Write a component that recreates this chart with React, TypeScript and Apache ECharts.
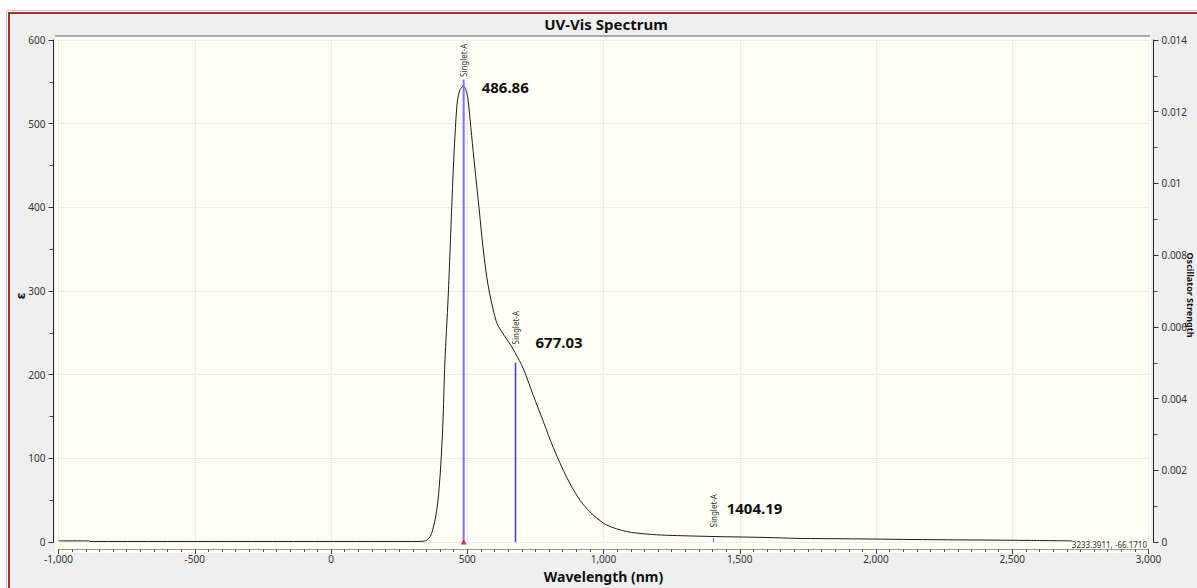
import React, { useEffect, useRef } from "react";
import * as echarts from "echarts";

// Simulated absorption spectrum (molar absorptivity vs wavelength)
const wavelengths = [
  -1000, -890, -885, 300, 338, 355, 369.5, 388, 400, 410, 418, 430, 437, 443, 449, 455,
  463.5, 474, 486.9, 498, 504, 516, 528, 543, 559, 577, 606, 625, 645, 675, 706,
  742, 779, 816, 865, 914, 963, 1012, 1085, 1159, 1230, 1402, 1600, 1721, 1880, 2170,
  2570, 2720,
];
const epsilon = [
  1.5, 1.5, 0.8, 0.8, 1.0, 3, 10.6, 38, 78, 137, 215, 293, 349, 400, 447, 486,
  526, 541, 545, 537, 526, 486, 447, 400, 349, 306, 264, 252, 242.5, 226.7, 207,
  175.6, 144.2, 112.8, 77.4, 49.9, 32.2, 20.4, 12.6, 9.6, 8.2, 6.7, 5.5, 4.4, 4.0, 3.0,
  2.0, 1.5,
];

// Computed excitations (stick spectrum)
const excitationWavelengths = [486.86, 677.03, 1404.19];
const oscillatorStrengths = [0.0129, 0.005, 0.00011];
const excitationStates = ["Singlet-A", "Singlet-A", "Singlet-A"];

const EPS_MAX = 600;
const F_MAX = 0.014;

const stickColors = ["#7474ff", "#3a3acb", "#5a5ae6"];
const stickWidths = [2, 1.5, 1];
// value label placement relative to the curve point above each stick
const valueLabelOffsets = [
  [18, 1],
  [20, -11],
  [13, -29],
];

function epsAt(wl: number): number {
  if (wl <= wavelengths[0]) return epsilon[0];
  for (let i = 1; i < wavelengths.length; i++) {
    if (wl <= wavelengths[i]) {
      const t = (wl - wavelengths[i - 1]) / (wavelengths[i] - wavelengths[i - 1]);
      return epsilon[i - 1] + t * (epsilon[i] - epsilon[i - 1]);
    }
  }
  return epsilon[epsilon.length - 1];
}

const FONT = '"Noto Sans", "DejaVu Sans", sans-serif';

function buildOption() {
  const spectrum = wavelengths.map((w, i) => [w, epsilon[i]]);
  const sticks = excitationWavelengths.map((w, i) => [w, oscillatorStrengths[i]]);

  return {
    animation: false,
    backgroundColor: "#ffffff",
    grid: { left: 58.5, right: 48.5, top: 40, bottom: 39, containLabel: false },
    xAxis: {
      type: "value",
      min: -1000,
      max: 3000,
      interval: 500,
      offset: 7,
      name: "Wavelength (nm)",
      nameLocation: "middle",
      nameGap: 17,
      nameTextStyle: { fontFamily: FONT, fontWeight: "bold", fontSize: 14, color: "#111" },
      axisLine: { show: true, onZero: false, lineStyle: { color: "#9a9a9a", width: 1 } },
      axisTick: { show: true, length: 5, lineStyle: { color: "#444" } },
      minorTick: { show: true, splitNumber: 10, length: 3, lineStyle: { color: "#555" } },
      axisLabel: {
        margin: 5,
        fontFamily: FONT,
        fontSize: 10,
        color: "#333",
        formatter: (v: number) => v.toLocaleString("en-US"),
      },
      splitLine: { show: true, lineStyle: { color: "#dcdcdc", type: "dotted", width: 1 } },
    },
    yAxis: [
      {
        type: "value",
        min: 0,
        max: EPS_MAX,
        interval: 100,
        position: "left",
        offset: 5,
        axisLine: { show: true, onZero: false, lineStyle: { color: "#222", width: 1 } },
        axisTick: { show: true, length: 5, lineStyle: { color: "#333" } },
        minorTick: { show: true, splitNumber: 2, length: 4, lineStyle: { color: "#444" } },
        axisLabel: { margin: 8, fontFamily: FONT, fontSize: 10, color: "#333" },
        splitLine: { show: true, lineStyle: { color: "#dcdcdc", type: "dotted", width: 1 } },
      },
      {
        type: "value",
        min: 0,
        max: F_MAX,
        interval: 0.002,
        position: "right",
        offset: 5,
        axisLine: { show: true, onZero: false, lineStyle: { color: "#222", width: 1 } },
        axisTick: { show: true, length: 5, lineStyle: { color: "#333" } },
        minorTick: { show: true, splitNumber: 2, length: 4, lineStyle: { color: "#444" } },
        axisLabel: { margin: 8, fontFamily: FONT, fontSize: 10, color: "#333" },
        splitLine: { show: false },
      },
    ],
    graphic: [
      {
        type: "rect",
        z: -20,
        silent: true,
        shape: { x: 6.5, y: 10.5, width: 1400, height: 800 },
        style: { fill: "none", stroke: "#c4c4c4", lineWidth: 1 },
      },
      {
        type: "rect",
        z: -19,
        silent: true,
        shape: { x: 9, y: 13, width: 1400, height: 800 },
        style: { fill: "#efefef", stroke: "#b3282b", lineWidth: 2 },
      },
      {
        type: "rect",
        z: -18,
        silent: true,
        shape: { x: 55, y: 36, width: 1096, height: 517 },
        style: { fill: "#fffff6" },
      },
      {
        type: "line",
        z: -17,
        silent: true,
        shape: { x1: 55, y1: 36, x2: 1150, y2: 36 },
        style: { stroke: "#a9a9a9", lineWidth: 2 },
      },
      {
        type: "text",
        z: 10,
        x: 606,
        y: 24,
        style: {
          text: "UV-Vis Spectrum",
          font: `bold 15px ${FONT}`,
          fill: "#111",
          align: "center",
          verticalAlign: "middle",
        },
      },
      {
        type: "text",
        z: 10,
        x: 20,
        y: 296,
        rotation: Math.PI / 2,
        style: {
          text: "ε",
          font: `bold 13px ${FONT}`,
          fill: "#111",
          align: "center",
          verticalAlign: "middle",
        },
      },
      {
        type: "text",
        z: 10,
        x: 1190,
        y: 295,
        rotation: -Math.PI / 2,
        style: {
          text: "Oscillator Strength",
          font: `bold 9px ${FONT}`,
          fill: "#111",
          align: "center",
          verticalAlign: "middle",
        },
      },
      {
        type: "text",
        z: 10,
        x: 1147,
        y: 544,
        style: {
          text: "3233.3911, -66.1710",
          font: `8px ${FONT}`,
          fill: "#333",
          align: "right",
          verticalAlign: "middle",
        },
      },
    ],
    series: [
      {
        type: "line",
        name: "ε",
        xAxisIndex: 0,
        yAxisIndex: 0,
        data: spectrum,
        showSymbol: false,
        smooth: 0.3,
        lineStyle: { color: "#1c1c1c", width: 1 },
        z: 3,
      },
      {
        type: "custom",
        name: "Oscillator Strength",
        xAxisIndex: 0,
        yAxisIndex: 1,
        data: sticks,
        z: 4,
        renderItem: (params: any, api: any) => {
          const i = params.dataIndex;
          const wl = api.value(0);
          const f = api.value(1);
          const base = api.coord([wl, 0]);
          const top = api.coord([wl, f]);
          const curve = api.coord([wl, (epsAt(wl) * F_MAX) / EPS_MAX]);
          const off = valueLabelOffsets[i];
          return {
            type: "group",
            children: [
              {
                type: "line",
                shape: { x1: base[0], y1: base[1], x2: top[0], y2: top[1] },
                style: { stroke: stickColors[i], lineWidth: stickWidths[i] },
              },
              {
                type: "text",
                x: base[0],
                y: curve[1] - 9,
                rotation: Math.PI / 2,
                style: {
                  text: excitationStates[i],
                  font: `8px ${FONT}`,
                  fill: "#333",
                  align: "left",
                  verticalAlign: "middle",
                },
              },
              {
                type: "text",
                x: base[0] + off[0],
                y: curve[1] + off[1],
                style: {
                  text: wl.toFixed(2),
                  font: `bold 15px ${FONT}`,
                  fill: "#111",
                  align: "left",
                  verticalAlign: "middle",
                },
              },
            ],
          };
        },
      },
      {
        type: "scatter",
        name: "selected",
        xAxisIndex: 0,
        yAxisIndex: 0,
        data: [[excitationWavelengths[0], 0]],
        symbol: "triangle",
        symbolSize: [6, 5],
        itemStyle: { color: "#e00000" },
        z: 5,
      },
    ],
  };
}

export default function App() {
  const ref = useRef<HTMLDivElement>(null);
  useEffect(() => {
    if (!ref.current) return;
    const chart = echarts.init(ref.current, null, { renderer: "svg" });
    chart.setOption(buildOption() as any);
    return () => chart.dispose();
  }, []);
  return (
    <div
      ref={ref}
      style={{ position: "absolute", left: 0, top: 0, width: 1197, height: 588 }}
    />
  );
}
